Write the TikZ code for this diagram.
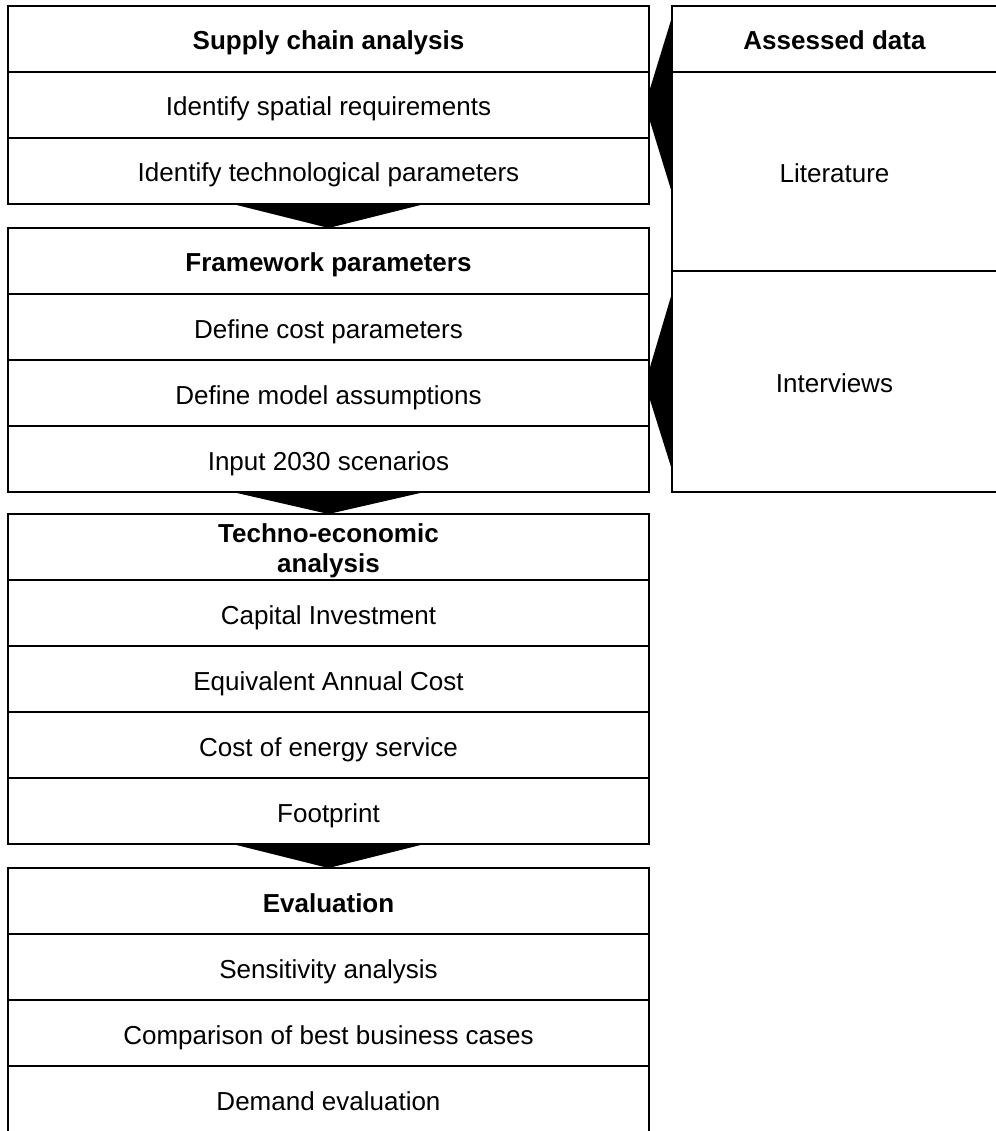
\documentclass[tikz,border=0pt]{standalone}
\usepackage{fontspec}
\setmainfont{Liberation Sans}
\begin{document}
\begin{tikzpicture}[x=1pt,y=-1pt,
  basecell/.style={draw,line width=2pt,fill=white,inner sep=0pt,outer sep=0pt,
    minimum width=641pt,minimum height=66pt,align=center,
    font=\fontsize{26}{30}\selectfont},
  cell/.style={basecell,text height=22pt,text depth=0pt},
  bold/.style={font=\fontsize{26}{30}\selectfont\bfseries},
  head/.style={cell,bold},
  rcell/.style={cell,minimum width=325pt},
  flowtri/.style={fill=black}]
\useasboundingbox (0,0) rectangle (995,1131);
% side triangles (under the boxes)
\coordinate (t1a) at (672,17);
\coordinate (t1b) at (672,193);
\coordinate (t1c) at (645,105);
\coordinate (t2a) at (672,293);
\coordinate (t2b) at (672,470);
\coordinate (t2c) at (645,384);
\fill[flowtri] (t1a) -- (t1c) -- (t1b) -- cycle;
\fill[flowtri] (t2a) -- (t2c) -- (t2b) -- cycle;
% block 1
\node[head] (sca) at (328.5,39) {Supply chain analysis};
\node[cell] (sca1) at (328.5,105) {Identify spatial requirements};
\node[cell] (sca2) at (328.5,171) {Identify technological parameters};
% block 2
\node[head] (fp) at (328.5,261) {Framework parameters};
\node[cell] (fp1) at (328.5,327) {Define cost parameters};
\node[cell] (fp2) at (328.5,393) {Define model assumptions};
\node[cell] (fp3) at (328.5,459) {Input 2030 scenarios};
% block 3
\node[basecell,bold,text height=50pt,text depth=0pt] (tea) at (328.5,547) {Techno-economic\\analysis};
\node[cell] (tea1) at (328.5,613) {Capital Investment};
\node[cell] (tea2) at (328.5,679) {Equivalent Annual Cost};
\node[cell] (tea3) at (328.5,745) {Cost of energy service};
\node[cell] (tea4) at (328.5,811) {Footprint};
% block 4
\node[head] (ev) at (328.5,901) {Evaluation};
\node[cell] (ev1) at (328.5,967) {Sensitivity analysis};
\node[cell] (ev2) at (328.5,1033) {Comparison of best business cases};
\node[cell] (ev3) at (328.5,1099) {Demand evaluation};
% right column
\node[rcell,bold] (ad) at (834.5,39) {Assessed data};
\node[rcell,minimum height=199pt] (lit) at (834.5,171.5) {Literature};
\node[rcell,minimum height=221pt] (int) at (834.5,381.5) {Interviews};
% down arrows
\fill[flowtri] ([xshift=-96pt]sca2.south) -- ([xshift=96pt]sca2.south) -- (fp.north) -- cycle;
\fill[flowtri] ([xshift=-96pt]fp3.south) -- ([xshift=96pt]fp3.south) -- (tea.north) -- cycle;
\fill[flowtri] ([xshift=-96pt]tea4.south) -- ([xshift=96pt]tea4.south) -- (ev.north) -- cycle;
\end{tikzpicture}
\end{document}
